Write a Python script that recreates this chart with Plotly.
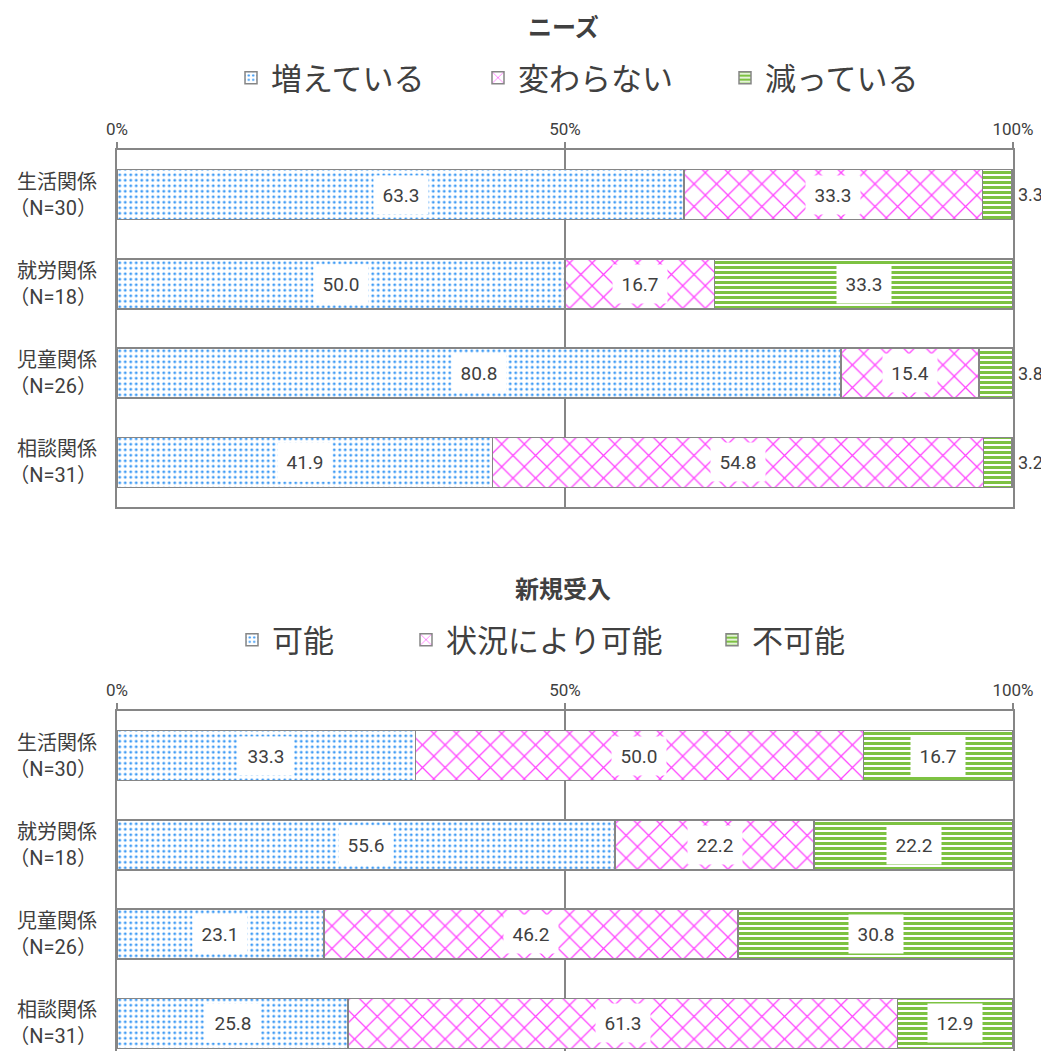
import plotly.graph_objects as go

# categories
groups = ["生活関係", "就労関係", "児童関係", "相談関係"]
group_n = [30, 18, 26, 31]
tick_vals = [0, 50, 100]
tick_text = ["0%", "50%", "100%"]

# chart 1: ニーズ
needs_title = "ニーズ"
needs_series = ["増えている", "変わらない", "減っている"]
needs_values = [
    [63.3, 50.0, 80.8, 41.9],
    [33.3, 16.7, 15.4, 54.8],
    [3.3, 33.3, 3.8, 3.2],
]

# chart 2: 新規受入
intake_title = "新規受入"
intake_series = ["可能", "状況により可能", "不可能"]
intake_values = [
    [33.3, 55.6, 23.1, 25.8],
    [50.0, 22.2, 46.2, 61.3],
    [16.7, 22.2, 30.8, 12.9],
]

# page body has an 8px margin: shrink the figure so the page does not scroll
OFF = 8
FW, FH = 1049 - OFF, 1063 - 2 * OFF - 4
GRAY = "#868686"
TXT = "#404040"
FONT = "Roboto, 'Noto Sans CJK JP', sans-serif"

patterns = [
    dict(shape=".", fgcolor="#3F9CF5", bgcolor="white", size=5.5, solidity=0.22, fgopacity=1),
    dict(shape="x", fgcolor="#FF44FF", bgcolor="white", size=16, solidity=0.15, fgopacity=1),
    dict(shape="-", fgcolor="#7DC242", bgcolor="white", size=5, solidity=0.6, fgopacity=1),
]

labels = [f"{g}<br>（N={n}）" for g, n in zip(groups, group_n)]

# legend text start (px, screen) for each entry
legend_text_x = [[271, 518, 765], [272, 446, 752]]


def px(x):
    return (x - OFF) / FW


def py(y):
    return 1 - (y - OFF) / FH


fig = go.Figure()
annotations = []
legends = {}

charts = [
    (needs_title, needs_series, needs_values, "x", "y", 28, 78),
    (intake_title, intake_series, intake_values, "x2", "y2", 590, 640),
]

n_leg = 0
for c, (title, series, values, xa, ya, title_y, leg_y) in enumerate(charts):
    for i, (name, vals) in enumerate(zip(series, values)):
        n_leg += 1
        leg = "legend" if n_leg == 1 else f"legend{n_leg}"
        legends[leg] = dict(
            orientation="h", x=px(legend_text_x[c][i] - 40), y=py(leg_y),
            xanchor="left", yanchor="middle", bgcolor="rgba(0,0,0,0)",
            font=dict(size=31, color=TXT), itemclick=False, itemdoubleclick=False)
        fig.add_trace(go.Bar(
            x=vals, y=list(range(len(groups))), name=name, orientation="h",
            xaxis=xa, yaxis=ya, legend=leg, width=0.56,
            marker=dict(color="white", pattern=patterns[i],
                        line=dict(color=GRAY, width=1.5)),
            hoverinfo="skip",
        ))
    # value labels
    base = [0.0] * len(groups)
    for i, vals in enumerate(values):
        for k, v in enumerate(vals):
            if v < 5:
                annotations.append(dict(
                    x=100, y=k, xref=xa, yref=ya, text=f"{v:.1f}", showarrow=False,
                    xanchor="left", xshift=3, font=dict(size=18, color=TXT, family=FONT)))
            else:
                annotations.append(dict(
                    x=base[k] + v / 2, y=k, xref=xa, yref=ya, text=f"{v:.1f}",
                    showarrow=False, bgcolor="white", width=52, height=36,
                    font=dict(size=19, color=TXT, family=FONT)))
            base[k] += v
    annotations.append(dict(
        x=px(563), y=py(title_y), xref="paper", yref="paper", text=f"<b>{title}</b>",
        xanchor="center", yanchor="middle", showarrow=False,
        font=dict(size=24, color=TXT, family=FONT)))

xdom = [px(117), px(1013)]
axis_common = dict(
    range=[0, 100], side="top", tickvals=tick_vals, ticktext=tick_text,
    ticks="outside", ticklen=6, tickcolor=GRAY, tickwidth=2,
    showgrid=True, gridcolor=GRAY, gridwidth=2, zeroline=False,
    showline=True, linecolor=GRAY, linewidth=2, automargin=False,
    tickfont=dict(size=17, color=TXT), domain=xdom, fixedrange=True,
)
yaxis_common = dict(
    tickvals=list(range(len(groups))), ticktext=labels, showline=True, mirror=True,
    linecolor=GRAY, linewidth=2, showgrid=False, zeroline=False, ticks="",
    tickfont=dict(size=20, color=TXT), ticklabelstandoff=14, automargin=False,
    ticklabeloverflow="allow",
)

# second chart is cut at the bottom of the page, like the reference
rows_visible = (FH + OFF - 711) / ((507 - 150) / len(groups))

fig.update_layout(
    width=FW, height=FH, margin=dict(l=0, r=0, t=0, b=0, autoexpand=False),
    paper_bgcolor="white", plot_bgcolor="white",
    font=dict(family=FONT, color=TXT),
    barmode="stack", annotations=annotations,
    xaxis=dict(axis_common, anchor="y", mirror=True),
    yaxis=dict(yaxis_common, anchor="x", domain=[py(507), py(150)], range=[3.5, -0.5]),
    xaxis2=dict(axis_common, anchor="y2", mirror=False),
    yaxis2=dict(yaxis_common, anchor="x2", domain=[0, py(711)],
                range=[rows_visible - 0.5, -0.5]),
    showlegend=True,
    **legends,
)

fig.write_html("out.html")
